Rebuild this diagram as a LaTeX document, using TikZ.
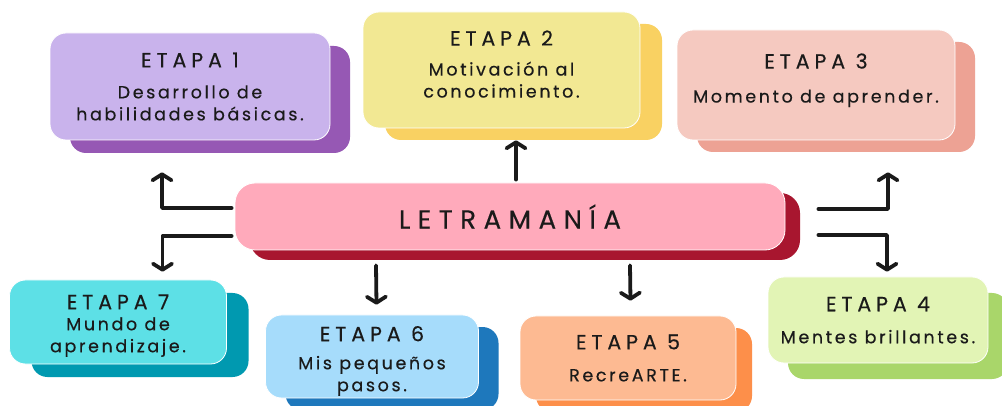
\documentclass[tikz,border=0pt]{standalone}
\usepackage{fontspec}
\setmainfont{Poppins}
\newfontfamily\headfont[LetterSpace=24,FakeBold=0.4]{Poppins}
\newfontfamily\bodyfont[LetterSpace=15,FakeBold=0.4]{Poppins}
\newfontfamily\titlefont[LetterSpace=29,FakeBold=0.4]{Poppins}
\usetikzlibrary{shadows,arrows.meta}
\definecolor{eA}{HTML}{C9B3EC}\definecolor{eAd}{HTML}{9658B4}
\definecolor{eB}{HTML}{F2E893}\definecolor{eBd}{HTML}{F9D162}
\definecolor{eC}{HTML}{F5C9C0}\definecolor{eCd}{HTML}{EDA294}
\definecolor{eD}{HTML}{E2F4B5}\definecolor{eDd}{HTML}{A9D66A}
\definecolor{eE}{HTML}{FDBA92}\definecolor{eEd}{HTML}{FD8F4A}
\definecolor{eF}{HTML}{A6DCFB}\definecolor{eFd}{HTML}{1E78BC}
\definecolor{eG}{HTML}{5DE0E6}\definecolor{eGd}{HTML}{0099B0}
\definecolor{mainc}{HTML}{FFAABB}\definecolor{maind}{HTML}{A8162F}
\definecolor{ink}{HTML}{1A1A1A}
\tikzset{
  stage/.style={rounded corners=16pt, align=center, inner sep=0pt, draw=white, line width=0.8pt,
    text=ink, font=\bodyfont\fontsize{17.5}{22}\selectfont},
  arr/.style={line width=3.8pt, line cap=round, line join=round, draw=ink,
    -{Straight Barb[length=6pt,width=19pt,round]}},
}
\newcommand{\hd}[1]{{\headfont\fontsize{20.5}{20}\selectfont #1}}
\begin{document}
\begin{tikzpicture}[x=1pt,y=-1pt]
\useasboundingbox[fill=white] (0,0) rectangle (1002,406);
% central node
\node[stage, fill=mainc, minimum width=550pt, minimum height=67pt, rounded corners=20pt,
  copy shadow={shadow xshift=15pt, shadow yshift=-10pt, fill=maind, draw=none},
  font=\titlefont\fontsize{26}{28}\selectfont] (ctr) at (510,216.5) {LETRAMANÍA};
% stages
\node[stage, fill=eA, minimum width=280pt, minimum height=107pt,
  copy shadow={shadow xshift=20pt, shadow yshift=-13pt, fill=eAd, draw=none}] (e1) at (190,86.5)
  {\hd{ETAPA 1}\\[9pt] Desarrollo de\\habilidades básicas.};
\node[stage, fill=eB, minimum width=277pt, minimum height=116pt,
  copy shadow={shadow xshift=22pt, shadow yshift=-12pt, fill=eBd, draw=none}] (e2) at (501.5,70)
  {\hd{ETAPA 2}\\[8pt] Motivación al\\conocimiento.\\[-10pt]};
\node[stage, fill=eC, minimum width=278pt, minimum height=110pt,
  copy shadow={shadow xshift=20pt, shadow yshift=-12pt, fill=eCd, draw=none}] (e3) at (816,85)
  {\hd{ETAPA 3}\\[12pt] Momento de aprender.\\[-8pt]};
\node[stage, fill=eD, minimum width=220pt, minimum height=86pt,
  copy shadow={shadow xshift=20pt, shadow yshift=-16pt, fill=eDd, draw=none}] (e4) at (878,320)
  {\hd{ETAPA 4}\\[10pt] Mentes brillantes.};
\node[stage, fill=eE, minimum width=216pt, minimum height=84pt,
  copy shadow={shadow xshift=16pt, shadow yshift=-12pt, fill=eEd, draw=none}] (e5) at (628,358)
  {\hd{ETAPA 5}\\[10pt] RecreARTE.};
\node[stage, fill=eF, minimum width=213pt, minimum height=83pt,
  copy shadow={shadow xshift=20pt, shadow yshift=-12pt, fill=eFd, draw=none}] (e6) at (372,356.5)
  {\mbox{}\\[2pt]\hd{ETAPA 6}\\[6pt] Mis pequeños\\pasos.};
\node[stage, fill=eG, minimum width=217pt, minimum height=84pt,
  copy shadow={shadow xshift=22pt, shadow yshift=-13pt, fill=eGd, draw=none}] (e7) at (118,322)
  {\mbox{}\\[0pt]\hd{ETAPA 7}\\[-1pt] Mundo de\\aprendizaje.};
% connectors
\draw[arr] ([xshift=6pt,yshift=3pt]ctr.north) -- ([xshift=14.5pt,yshift=-12pt]e2.south);
\draw[arr] ([xshift=-3pt,yshift=8.5pt]ctr.west) -| ([xshift=-28pt,yshift=-32pt]e1.south);
\draw[arr] ([xshift=-3pt,yshift=-19.5pt]ctr.west) -| ([xshift=44.5pt,yshift=8pt]e7.north);
\draw[arr] ([xshift=33pt,yshift=7.5pt]ctr.east) -| ([xshift=72pt,yshift=-32pt]e3.south);
\draw[arr] ([xshift=33pt,yshift=-18.5pt]ctr.east) -| ([xshift=9pt,yshift=5pt]e4.north);
\draw[arr] ([xshift=-134pt,yshift=-15pt]ctr.south) -- ([xshift=4.5pt,yshift=10pt]e6.north);
\draw[arr] ([xshift=120pt,yshift=-15pt]ctr.south) -- ([xshift=2.5pt,yshift=15pt]e5.north);
\end{tikzpicture}
\end{document}
